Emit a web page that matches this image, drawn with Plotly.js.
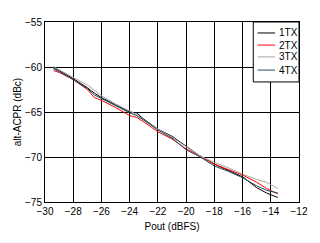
<!DOCTYPE html>
<html><head><meta charset="utf-8">
<script src="https://cdn.plot.ly/plotly-3.0.1.min.js"></script>
<style>body{margin:0;background:#fff}#c{width:320px;height:243px}</style>
</head><body><div id="c"></div>
<script>
const pout = [-29.4,-29,-28,-27,-26.5,-26,-25,-24,-23.5,-23,-22,-21,-20,-19,-18,-17,-16,-15,-14.3,-13.5];
const tx1 = [-60.1,-60.4,-61.3,-62.3,-62.9,-63.4,-64.2,-65.0,-65.1,-65.8,-66.9,-67.7,-68.8,-69.9,-70.8,-71.5,-72.2,-73.4,-74.0,-74.5];
const tx2 = [-60.4,-60.6,-61.4,-62.5,-63.4,-63.7,-64.5,-65.4,-65.6,-66.1,-67.2,-68.0,-69.1,-69.9,-70.8,-71.4,-72.0,-72.8,-73.5,-74.1];
const tx3 = [-59.97,-60.3,-61.1,-62.0,-62.6,-63.2,-64.1,-64.9,-65.3,-65.9,-66.9,-67.8,-68.9,-69.9,-70.6,-71.2,-71.9,-72.5,-72.8,-73.5];
const tx4 = [-60.2,-60.5,-61.4,-62.4,-63.1,-63.5,-64.3,-65.1,-65.4,-65.9,-67.0,-67.9,-69.2,-70.0,-71.0,-71.6,-72.3,-73.2,-73.7,-74.0];
const names = ['1TX','2TX','3TX','4TX'];
const colors = ['#000000','#ff0000','#a6a6a6','#1f4e66'];
const series = [tx1,tx2,tx3,tx4];
const traces = series.map((s,i)=>({x:pout,y:s,name:names[i],type:'scatter',mode:'lines',line:{color:colors[i],width:1},showlegend:false}));

// custom compact legend (paper coords)
const legRows = [0.939,0.872,0.806,0.733];
const shapes = [{type:'rect',xref:'paper',yref:'paper',x0:0.82,x1:1,y0:0.667,y1:1,fillcolor:'#fff',line:{color:'#000',width:1},layer:'above'}];
const annotations = [];
names.forEach((n,i)=>{
  shapes.push({type:'line',xref:'paper',yref:'paper',x0:0.837,x1:0.906,y0:legRows[i],y1:legRows[i],line:{color:colors[i],width:1},layer:'above'});
  annotations.push({xref:'paper',yref:'paper',x:0.915,y:legRows[i],text:n,showarrow:false,xanchor:'left',yanchor:'middle',font:{size:10,color:'#000'}});
});

const layout = {
  width:320,height:243,
  margin:{l:45,r:21,t:22,b:41},
  paper_bgcolor:'#fff',plot_bgcolor:'#fff',
  font:{family:'Liberation Sans, Arial, sans-serif',size:10,color:'#000'},
  showlegend:false,
  shapes:shapes,annotations:annotations,
  xaxis:{range:[-30,-12],dtick:2,tick0:-30,showgrid:true,gridcolor:'#000',gridwidth:1,zeroline:false,showline:true,linecolor:'#000',linewidth:1,mirror:true,ticks:'',
    tickfont:{color:'#000'},title:{text:'Pout (dBFS)',font:{size:10},standoff:6}},
  yaxis:{range:[-75,-55],dtick:5,showgrid:true,gridcolor:'#000',gridwidth:1,zeroline:false,showline:true,linecolor:'#000',linewidth:1,mirror:true,ticks:'',
    tickfont:{color:'#000'},title:{text:'alt-ACPR (dBc)',font:{size:10},standoff:1}}
};
Plotly.newPlot('c',traces,layout,{displayModeBar:false,staticPlot:true});
</script></body></html>
